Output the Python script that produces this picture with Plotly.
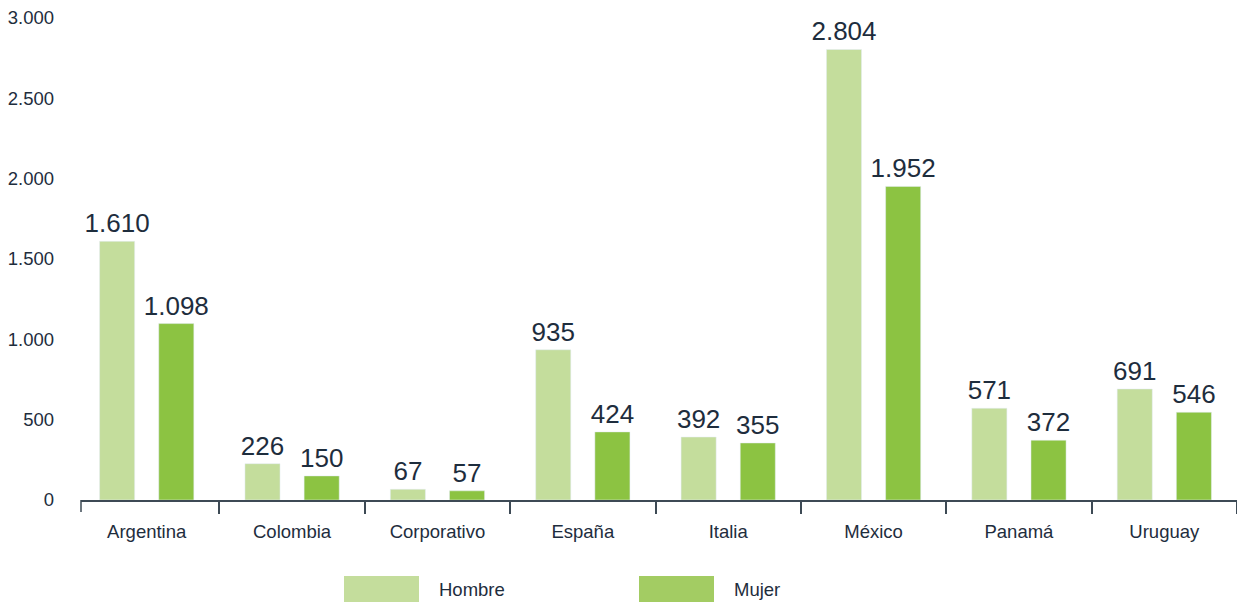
import plotly.graph_objects as go

categories = ["Argentina", "Colombia", "Corporativo", "España", "Italia", "México", "Panamá", "Uruguay"]
hombre = [1610, 226, 67, 935, 392, 2804, 571, 691]
mujer = [1098, 150, 57, 424, 355, 1952, 372, 546]
y_ticks = [0, 500, 1000, 1500, 2000, 2500, 3000]
legend_labels = ["Hombre", "Mujer"]

C_H = "#c4dd9c"
C_M = "#8cc342"
C_M_LEG = "#a3cc63"
TXT = "#1e2d3d"
AX = "#3d4a55"
FONT = "Liberation Sans, Arial, Helvetica, sans-serif"
FS = 18.5

fig = go.Figure()
for vals, name, col in [(hombre, legend_labels[0], C_H), (mujer, legend_labels[1], C_M)]:
    fig.add_trace(go.Bar(x=categories, y=vals, name=name, marker_color=col,
                         texttemplate="%{y:,}", textposition="outside", constraintext="none",
                         textfont=dict(size=26, color=TXT, family=FONT), cliponaxis=False))

fig.update_layout(
    width=1237, height=603,
    margin=dict(l=81, r=0, t=18, b=103),
    barmode="group", bargap=0.186, bargroupgap=0.407,
    separators=",.",
    plot_bgcolor="white", paper_bgcolor="white",
    showlegend=False,
    font=dict(family=FONT, color=TXT, size=FS),
)
fig.update_xaxes(range=[-0.452, 7.5], showline=True, linecolor=AX, linewidth=1.5,
                 ticks="outside", tickson="boundaries", ticklen=12, tickcolor=AX,
                 tickwidth=1.5, tickfont=dict(size=FS, color=TXT), ticklabelstandoff=14,
                 showgrid=False, zeroline=False)
fig.update_yaxes(range=[0, 3000], tickvals=y_ticks, tickformat=",", showgrid=False,
                 zeroline=False, showline=False, ticks="", tickfont=dict(size=FS, color=TXT),
                 ticklabelstandoff=26)

# left boundary tick at the start of the axis
fig.add_shape(type="line", xref="paper", yref="paper", x0=0, x1=0,
              y0=0, y1=-12 / 482, line=dict(color=AX, width=1.5))

# manual legend
legend_items = [(legend_labels[0], C_H, 344), (legend_labels[1], C_M_LEG, 639)]
for label, col, x0 in legend_items:
    fig.add_shape(type="rect", xref="paper", yref="paper",
                  x0=(x0 - 81) / 1156, x1=(x0 + 75 - 81) / 1156,
                  y0=-(602 - 500) / 482, y1=-(576 - 500) / 482,
                  fillcolor=col, line_width=0)
    fig.add_annotation(xref="paper", yref="paper", x=(x0 + 93 - 81) / 1156,
                       y=-(589 - 500) / 482, text=label, showarrow=False,
                       xanchor="left", yanchor="middle", font=dict(size=FS, color=TXT))

fig.write_html("out.html")
